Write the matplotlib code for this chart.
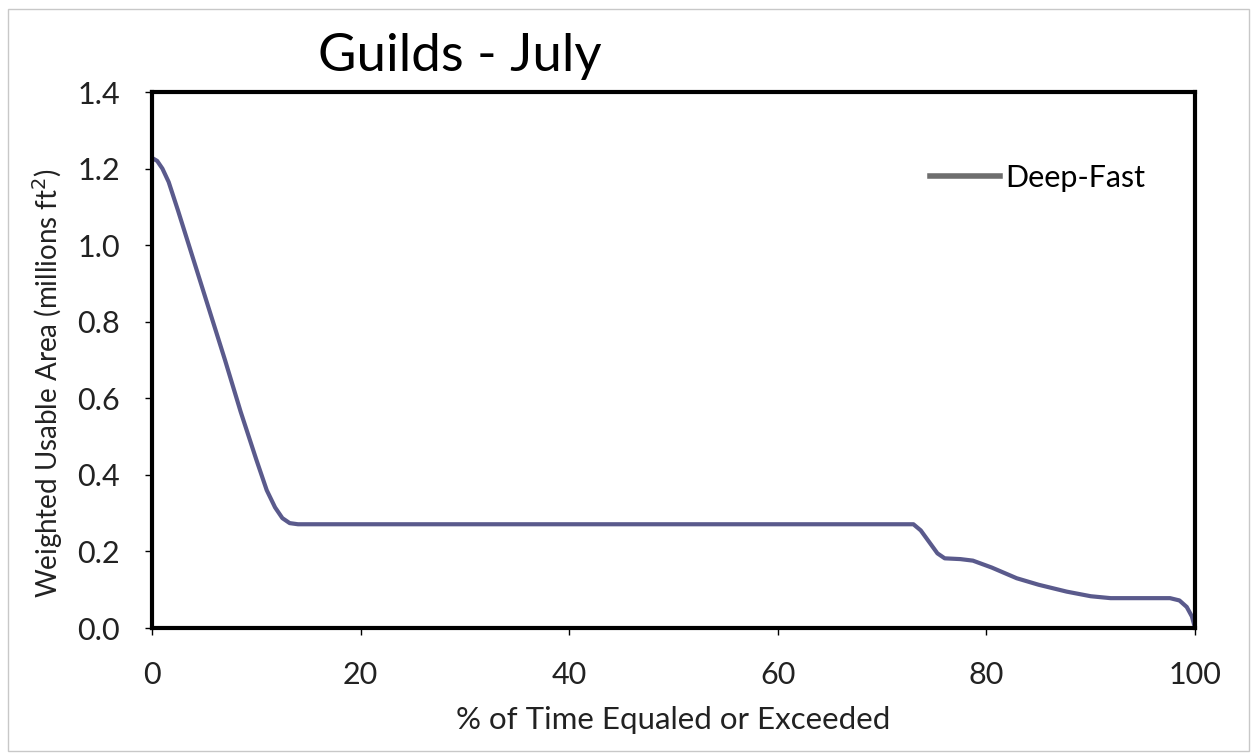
import matplotlib
matplotlib.use("Agg")
import matplotlib.pyplot as plt
from matplotlib.lines import Line2D
from matplotlib.patches import Rectangle

plt.rcParams['font.family'] = ['Lato', 'DejaVu Sans']

# Deep-Fast guild, July
pct_time = [0, 0.5, 1, 1.6, 2.5, 4, 5.5, 7, 8.5, 10, 11, 11.8, 12.5, 13.2, 14,
            73, 73.7, 74.5, 75.3, 76, 77.5, 78.7, 80.5, 82.9, 85, 87.7, 90,
            91.9, 97.6, 98.5, 99.2, 99.7, 100]
wua = [1.228, 1.22, 1.2, 1.165, 1.09, 0.96, 0.83, 0.70, 0.565, 0.44, 0.36,
       0.315, 0.287, 0.274, 0.271,
       0.271, 0.255, 0.225, 0.195, 0.182, 0.18, 0.176, 0.158, 0.13, 0.113,
       0.095, 0.083, 0.078, 0.078, 0.072, 0.055, 0.03, 0.0]
x_ticks = [0, 20, 40, 60, 80, 100]
y_ticks = [0.0, 0.2, 0.4, 0.6, 0.8, 1.0, 1.2, 1.4]

fig = plt.figure(figsize=(12.54, 7.55), dpi=100)
ax = fig.add_axes([0.1212, 0.1682, 0.8318, 0.7099])

ax.plot(pct_time, wua, color='#5a5a8c', lw=3, solid_joinstyle='round',
        solid_capstyle='round')

ax.set_xlim(0, 100)
ax.set_ylim(0, 1.4)
ax.set_xticks(x_ticks)
ax.set_yticks(y_ticks)
ax.set_yticklabels([f'{v:.1f}' for v in y_ticks])
ax.tick_params(direction='out', length=5, width=1, labelsize=22,
               labelcolor='#222222')
ax.tick_params(axis='x', pad=19)
ax.tick_params(axis='y', pad=18)
for s in ax.spines.values():
    s.set_linewidth(3)
    s.set_color('black')

ax.set_xlabel('% of Time Equaled or Exceeded', fontsize=22.5, color='#222222')
ax.xaxis.set_label_coords(0.5, -0.146)
ax.set_ylabel('Weighted Usable Area (millions ft$^2$)', fontsize=20,
              color='#222222')
ax.yaxis.set_label_coords(-0.083, 0.457)

handle = Line2D([], [], color='#6e6e6e', lw=4)
ax.legend([handle], ['Deep-Fast'], loc='center left', bbox_to_anchor=(0.746, 0.84),
          frameon=False, fontsize=22, handlelength=2.3, handletextpad=0.15,
          borderpad=0, borderaxespad=0)

fig.text(0.367, 0.925, 'Guilds - July', fontsize=38, ha='center', va='center')

# light frame round the chart area
fig.patches.append(Rectangle((0.006, 0.005), 0.99, 0.983, transform=fig.transFigure,
                             fill=False, edgecolor='#c8c8c8', lw=1))

fig.savefig('out.png', dpi=100)
